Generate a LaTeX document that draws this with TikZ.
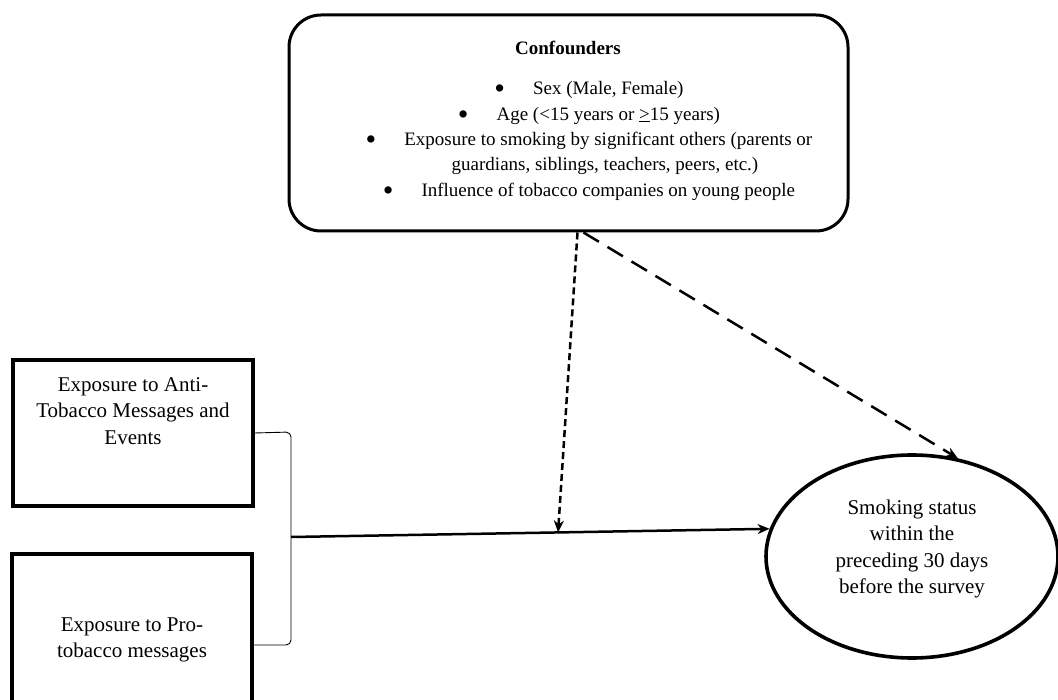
\documentclass[tikz,border=0pt]{standalone}
\usepackage{fontspec}
\setmainfont{Liberation Serif}
\usepackage{tikz}
\usetikzlibrary{calc, shapes.geometric, arrows.meta}
\tikzstyle{confbox}  = [rectangle, rounded corners=32pt, minimum width=559pt, minimum height=216pt, draw=black, line width=3pt]
\tikzstyle{varbox}   = [rectangle, minimum width=240pt, inner sep=0pt, draw=black, line width=3.3pt]
\tikzstyle{outcome}  = [ellipse, minimum width=292pt, minimum height=203pt, inner sep=0pt, draw=black, line width=3.6pt]
\tikzstyle{bigtext}  = [align=center, font=\fontsize{21}{26.5}\selectfont]
\tikzstyle{listtext} = [align=center, font=\fontsize{19}{25.3}\selectfont]
\tikzstyle{arrow}    = [line width=2.5pt,->,>={Stealth[length=12pt,width=10pt]}]
\tikzstyle{bracket}  = [line width=0.9pt, rounded corners=5pt]
\newcommand{\itembullet}{\raisebox{-4pt}{\scalebox{1.6}{\textbullet}}\hspace{28pt}}

\begin{document}
\begin{tikzpicture}[x=1pt, y=-1pt]
      \clip (0,0) rectangle (1058,700);

      % confounders
      \node (conf)      [confbox]  at (568.5,123) {};
      \node (conftitle) [listtext] at (568,48) {\bfseries Confounders};
      \node (conflist)  [listtext] at (589,141) {\itembullet Sex (Male, Female)\\
        \itembullet Age (<15 years or \underline{>}15 years)\\
        \itembullet Exposure to smoking by significant others (parents or\\
        \hspace*{32pt}guardians, siblings, teachers, peers, etc.)\\
        \itembullet Influence of tobacco companies on young people};

      % exposures
      \node (anti)     [varbox, minimum height=146pt] at (133,433) {};
      \node (antitext) [bigtext] at (133,411) {Exposure to Anti-\\Tobacco Messages and\\Events};
      \node (pro)      [varbox, minimum height=182pt] at (132,645) {};
      \node (protext)  [bigtext] at (132,640) {Exposure to Pro-\\tobacco messages};

      % outcome
      \node (smoke)     [outcome] at (912,556.5) {};
      \node (smoketext) [bigtext] at (912,549) {Smoking status\\within the\\preceding 30 days\\before the survey};

      \coordinate (brtop) at (291,432);
      \coordinate (brbot) at (291,645);
      \coordinate (brmid) at (291,537);

      \draw [bracket] (anti.east) -- (brtop) -- (brbot) -- (pro.east);
      \draw [arrow] (brmid) -- coordinate[pos=0.558] (meet) (smoke.169);

      \draw [arrow, dash pattern=on 7pt off 4pt]   ([xshift=9pt]conf.south)  -- (meet);
      \draw [arrow, dash pattern=on 18pt off 10pt] ([xshift=15pt]conf.south) -- (smoke.65);

    \end{tikzpicture}
\end{document}
